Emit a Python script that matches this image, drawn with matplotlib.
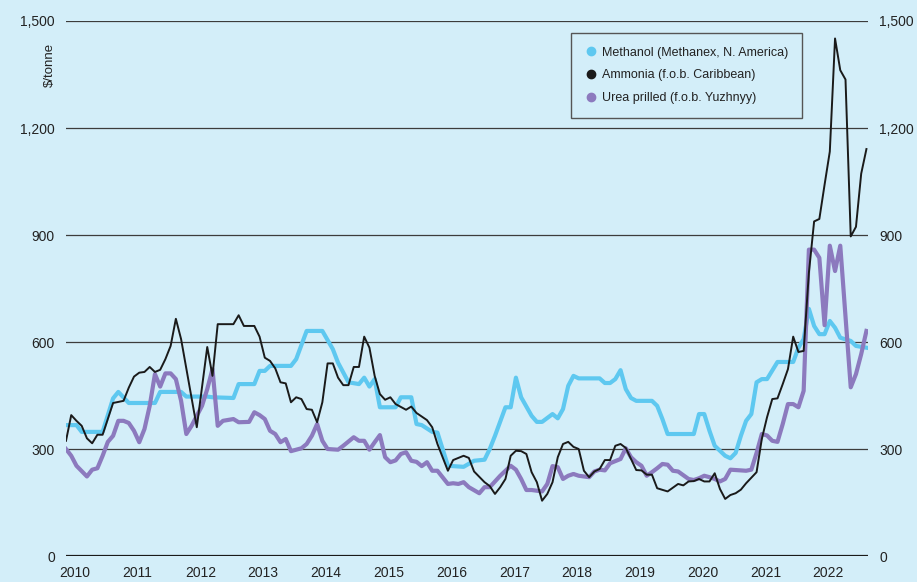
import matplotlib
matplotlib.use("Agg")
import matplotlib.pyplot as plt
from matplotlib.lines import Line2D

# ---- data: (months since Jan 2010, $/tonne) ----
years = ["2010", "2011", "2012", "2013", "2014", "2015", "2016",
         "2017", "2018", "2019", "2020", "2021", "2022"]

methanol = [(0, 367), (2, 367), (3, 348), (7, 348), (9, 442), (10, 460), (12, 429), (17, 429),
            (18, 460), (22, 460), (23, 447), (27, 447), (28, 445), (32, 443), (33, 482),
            (36, 482), (37, 519), (38, 519), (39, 533), (43, 533), (44, 552), (46, 631),
            (49, 631), (51, 580), (52, 542), (54, 487), (56, 482), (57, 500), (58, 475),
            (59, 496), (60, 417), (63, 417), (64, 445), (66, 445), (67, 370), (68, 367),
            (70, 348), (71, 346), (73, 253), (76, 250), (78, 267), (80, 270), (81, 300),
            (82, 337), (84, 417), (85, 417), (86, 500), (87, 445), (89, 393), (90, 376),
            (91, 376), (93, 398), (94, 386), (95, 412), (96, 477), (97, 505), (98, 498),
            (102, 498), (103, 485), (104, 485), (105, 496), (106, 521), (107, 468), (108, 443),
            (109, 435), (112, 435), (113, 421), (114, 384), (115, 342), (120, 342), (121, 398),
            (122, 398), (123, 351), (124, 309), (126, 281), (127, 274), (128, 289), (129, 337),
            (130, 379), (131, 398), (132, 487), (133, 496), (134, 496), (136, 544), (139, 544),
            (140, 584), (141, 608), (142, 693), (143, 645), (144, 622), (145, 622), (146, 659),
            (147, 640), (148, 612), (150, 603), (151, 589), (153, 584)]

ammonia = [(0, 323), (1, 395), (2, 379), (3, 365), (4, 330), (5, 316), (6, 340), (7, 340),
           (9, 429), (10, 432), (11, 435), (12, 472), (13, 503), (14, 514), (15, 516), (16, 530),
           (17, 516), (18, 522), (19, 552), (20, 589), (21, 665), (22, 608), (25, 361), (27, 586),
           (28, 505), (29, 650), (32, 650), (33, 675), (34, 645), (36, 645), (37, 615), (38, 556),
           (39, 547), (40, 526), (41, 487), (42, 484), (43, 431), (44, 445), (45, 440), (46, 412),
           (47, 410), (48, 375), (49, 431), (50, 540), (51, 540), (52, 500), (53, 479), (54, 479),
           (55, 530), (56, 530), (57, 615), (58, 584), (59, 505), (60, 454), (61, 438), (62, 445),
           (63, 426), (65, 410), (66, 419), (67, 401), (69, 381), (70, 361), (71, 314), (73, 239),
           (74, 269), (75, 275), (76, 281), (77, 275), (78, 237), (80, 207), (81, 196), (82, 174),
           (83, 193), (84, 216), (85, 281), (86, 295), (87, 294), (88, 286), (89, 235), (90, 207),
           (91, 155), (92, 174), (93, 207), (94, 277), (95, 314), (96, 320), (97, 306), (98, 300),
           (99, 239), (100, 221), (101, 237), (102, 244), (103, 269), (104, 269), (105, 309),
           (106, 314), (107, 303), (108, 272), (109, 241), (110, 240), (111, 228), (112, 228),
           (113, 190), (115, 181), (117, 202), (118, 198), (119, 209), (120, 210), (121, 216),
           (122, 209), (123, 209), (124, 232), (125, 188), (126, 160), (127, 171), (128, 176),
           (129, 186), (130, 204), (132, 235), (133, 328), (134, 389), (135, 440), (136, 442),
           (137, 482), (138, 524), (139, 615), (140, 572), (141, 575), (142, 794), (143, 938),
           (144, 945), (145, 1041), (146, 1134), (147, 1451), (148, 1362), (149, 1336),
           (150, 896), (151, 923), (152, 1072), (153, 1141)]

urea = [(0, 300), (1, 281), (2, 253), (4, 223), (5, 242), (6, 246), (7, 281), (8, 320), (9, 337),
        (10, 379), (11, 379), (12, 373), (13, 351), (14, 319), (15, 356), (16, 421), (17, 510),
        (18, 475), (19, 512), (20, 512), (21, 496), (22, 435), (23, 342), (24, 365), (25, 393),
        (26, 421), (27, 468), (28, 524), (29, 365), (30, 379), (32, 384), (33, 375), (35, 376),
        (36, 403), (37, 395), (38, 384), (39, 351), (40, 342), (41, 319), (42, 328), (43, 294),
        (44, 298), (45, 302), (46, 314), (47, 337), (48, 370), (49, 323), (50, 300), (52, 298),
        (53, 309), (55, 333), (56, 323), (57, 323), (58, 298), (59, 319), (60, 339), (61, 277),
        (62, 263), (63, 268), (64, 286), (65, 291), (66, 267), (67, 264), (68, 252), (69, 263),
        (70, 239), (71, 239), (73, 202), (74, 204), (75, 202), (76, 207), (77, 193), (79, 176),
        (80, 193), (81, 193), (82, 209), (83, 225), (85, 253), (86, 242), (87, 216), (88, 185),
        (89, 185), (91, 181), (92, 202), (93, 252), (94, 249), (95, 216), (96, 225), (97, 230),
        (98, 225), (100, 221), (101, 237), (102, 242), (103, 240), (104, 260), (105, 266),
        (106, 272), (107, 302), (108, 277), (109, 263), (110, 253), (111, 225), (112, 235),
        (113, 246), (114, 258), (115, 256), (116, 239), (117, 237), (119, 216), (120, 213),
        (121, 218), (122, 225), (123, 221), (124, 216), (125, 209), (126, 216), (127, 242),
        (128, 241), (130, 239), (131, 242), (132, 289), (133, 342), (134, 338), (135, 323),
        (136, 320), (137, 370), (138, 426), (139, 426), (140, 417), (141, 463), (142, 859),
        (143, 859), (144, 836), (145, 647), (146, 870), (147, 799), (148, 870), (150, 473),
        (151, 510), (152, 566), (153, 631)]

series_names = ["Methanol (Methanex, N. America)", "Ammonia (f.o.b. Caribbean)",
                "Urea prilled (f.o.b. Yuzhnyy)"]
yticks = [0, 300, 600, 900, 1200, 1500]

# ---- style ----
BG = "#d3eef9"
C_METH = "#5ec8f0"
C_AMM = "#1a1a1a"
C_UREA = "#8c7abe"
TXT = "#222222"
plt.rcParams["font.family"] = ["Liberation Sans", "DejaVu Sans"]

fig = plt.figure(figsize=(9.17, 5.82), dpi=100, facecolor=BG)
ax = fig.add_axes([66 / 917, 1 - 556 / 582, (868 - 66) / 917, (556 - 21) / 582])
ax.set_facecolor(BG)

for v in yticks:
    if v == 0:
        ax.axhline(v, color="#1a1a1a", lw=1.6, zorder=1)
    else:
        ax.axhline(v, color="#3c3c3c", lw=0.9, zorder=1)


def xy(pairs):
    return [p[0] for p in pairs], [p[1] for p in pairs]


ax.plot(*xy(methanol), color=C_METH, lw=3.0, solid_joinstyle="round", zorder=3)
ax.plot(*xy(urea), color=C_UREA, lw=3.0, solid_joinstyle="round", zorder=4)
ax.plot(*xy(ammonia), color=C_AMM, lw=1.4, zorder=5)

ax.set_xlim(0, 153.3)
ax.set_ylim(0, 1500)
for s in ax.spines.values():
    s.set_visible(False)

ax.set_yticks(yticks)
ax.set_yticklabels([f"{v:,}" for v in yticks])
ax.tick_params(axis="y", length=0, pad=8, labelsize=10, colors=TXT,
               labelleft=True, labelright=True)
# year labels sit just after the start of each year
ax.set_xticks([12 * i + 1.7 for i in range(len(years))])
ax.set_xticklabels(years)
ax.tick_params(axis="x", length=0, pad=7, labelsize=10, colors=TXT)

fig.text(50 / 917, 1 - 43 / 582, "$/tonne", rotation=90, ha="center", va="top",
         fontsize=9.5, color=TXT)

handles = [Line2D([], [], ls="none", marker="o", ms=6, color=c, mec=c)
           for c in (C_METH, C_AMM, C_UREA)]
leg = ax.legend(handles, series_names, loc="upper right",
                bbox_to_anchor=((802 - 66) / 802, (556 - 33) / 535),
                frameon=True, fancybox=False, facecolor=BG, edgecolor="#555555",
                fontsize=9, handletextpad=0.4, labelspacing=0.85,
                borderpad=1.1, handlelength=1.0, borderaxespad=0)
leg.get_frame().set_linewidth(1.0)
leg.get_frame().set_alpha(1)
for t in leg.get_texts():
    t.set_color(TXT)

fig.savefig("out.png", dpi=100, facecolor=BG)
